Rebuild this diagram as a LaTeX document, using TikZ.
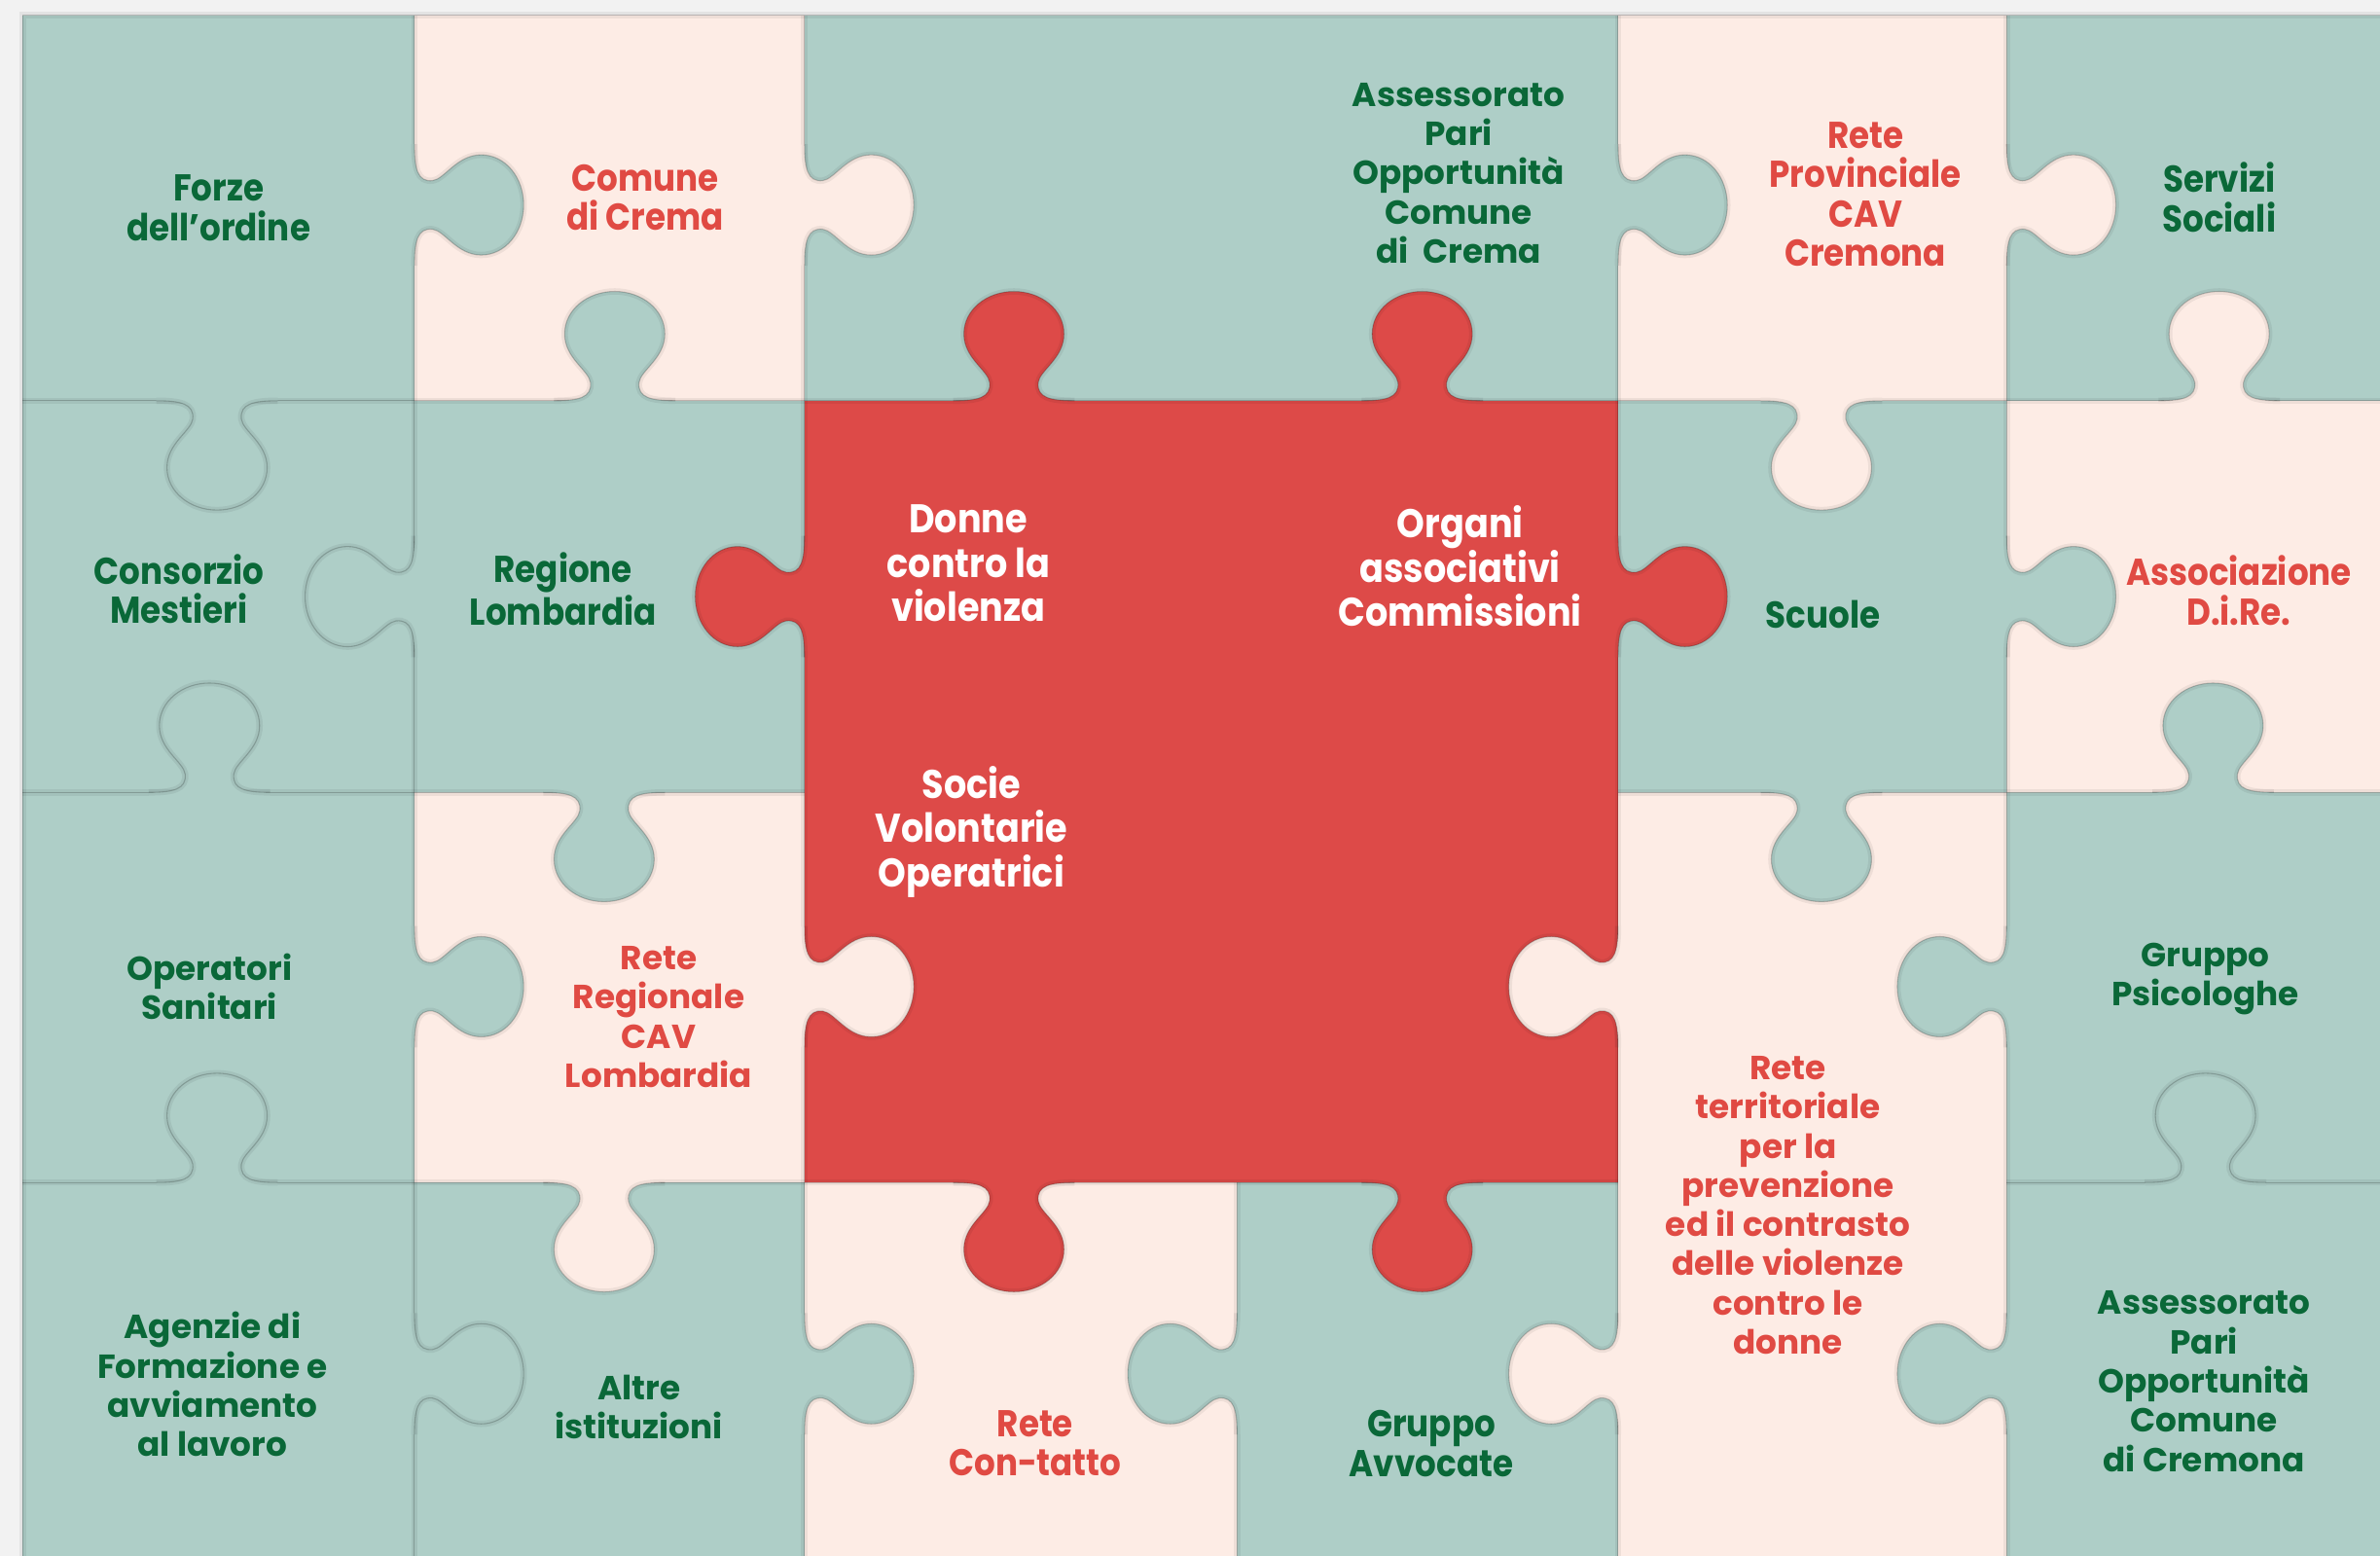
\documentclass[tikz,border=0pt]{standalone}
\usepackage{fontspec}
\setmainfont{Poppins}
\newfontfamily\narrowfont{Poppins}[FakeStretch=0.89]
\usepackage{tikz}

\definecolor{pzbg}{RGB}{242,242,242}
\definecolor{pzgreen}{RGB}{174,206,199}
\definecolor{pzpink}{RGB}{253,236,229}
\definecolor{pzred}{RGB}{221,74,72}
\definecolor{txtgreen}{RGB}{10,104,56}
\definecolor{txtred}{RGB}{224,74,67}

\newcommand\widetxt{\bfseries\fontsize{12.5}{14.7}\selectfont}
\newcommand\narrowtxt{\narrowfont\bfseries\fontsize{14}{14.7}\selectfont}
\newcommand\bigtxt{\narrowfont\bfseries\fontsize{15}{16.7}\selectfont}

\tikzset{seam/.style={draw=black,line width=.4pt,draw opacity=.2,
           preaction={draw=black,line width=2.4pt,draw opacity=.06}},
         knob/.pic={
           \fill[pic actions] (-40,-4) -- (-40,0)
             .. controls (-24,0) and (-15,2) .. (-16,12)
             .. controls (-17,20) and (-33,28) .. (-33,44)
             .. controls (-33,60) and (-18,72) .. (0,72)
             .. controls (18,72) and (33,60) .. (33,44)
             .. controls (33,28) and (17,20) .. (16,12)
             .. controls (15,2) and (24,0) .. (40,0) -- (40,-4) -- cycle;
           \draw[seam] (-40,0)
             .. controls (-24,0) and (-15,2) .. (-16,12)
             .. controls (-17,20) and (-33,28) .. (-33,44)
             .. controls (-33,60) and (-18,72) .. (0,72)
             .. controls (18,72) and (33,60) .. (33,44)
             .. controls (33,28) and (17,20) .. (16,12)
             .. controls (15,2) and (24,0) .. (40,0);
         }}

\begin{document}
\begin{tikzpicture}[x=0.2mm,y=-0.2mm]
  \tikzstyle{every node}=[align=center,inner sep=0pt]
  \tikzstyle{gw}=[text=txtgreen,font=\widetxt]
  \tikzstyle{gn}=[text=txtgreen,font=\narrowtxt]
  \tikzstyle{rw}=[text=txtred,font=\widetxt]
  \tikzstyle{rn}=[text=txtred,font=\narrowtxt]
  \tikzstyle{wn}=[text=white,font=\bigtxt]

  \useasboundingbox (0,0) rectangle (1568,1025);
  \fill[pzbg] (0,0) rectangle (1568,1025);
  \fill[pzgreen] (15,10) rectangle (1568,1025);

  % pink and red pieces
  \fill[pzpink] (273,10) rectangle (530,264)
                (1066,10) rectangle (1322,264)
                (1322,264) rectangle (1568,522)
                (273,522) rectangle (530,779)
                (1066,522) rectangle (1322,1025)
                (530,779) rectangle (815,1025);
  \fill[pzred] (530,264) rectangle (1066,779);

  % straight seams
  \draw[seam] (15,1025) -- (15,10) -- (1568,10);
  \draw[seam] (15,264) -- (1568,264)
              (15,522) -- (530,522) (1066,522) -- (1568,522)
              (15,779) -- (1066,779) (1322,779) -- (1568,779);
  \draw[seam] (273,10) -- (273,1025) (530,10) -- (530,1025)
              (1066,10) -- (1066,1025) (1322,10) -- (1322,1025)
              (815,779) -- (815,1025);

  % knobs: x/y/rotation (90 right, -90 left, 180 up, 0 down)
  \foreach \x/\y/\r in {273/135/90, 143/264/0, 405/264/180, 1066/135/90,
                        273/393/-90, 1322/393/90, 138/522/180, 398/522/0,
                        1200/522/0, 1458/522/180, 273/650/90, 1322/650/-90,
                        143/779/180, 1453/779/180, 273/905/90, 530/905/90,
                        815/905/-90, 1322/905/-90}
    \pic[fill=pzgreen,rotate=\r] at (\x,\y) {knob};
  \foreach \x/\y/\r in {530/135/90, 1322/135/90, 1200/264/0, 1462/264/180,
                        530/650/90, 1066/650/-90, 398/779/0, 1066/905/-90}
    \pic[fill=pzpink,rotate=\r] at (\x,\y) {knob};
  \foreach \x/\y/\r in {668/264/180, 937/264/180, 530/393/-90, 1066/393/90,
                        668/779/0, 937/779/0}
    \pic[fill=pzred,rotate=\r] at (\x,\y) {knob};

  \node[gn] (A) at (144,137) {Forze\\dell’ordine};
  \node[rn] (B) at (425,130) {Comune\\di Crema};
  \node[gw] (C) at (961,114) {Assessorato\\Pari\\Opportunità\\Comune\\di\ \ Crema};
  \node[rn] (D) at (1229,128) {Rete\\Provinciale\\CAV\\Cremona};
  \node[gn] (E) at (1462,130) {Servizi\\Sociali};

  \node[gn] (AA) at (118,388) {Consorzio\\Mestieri};
  \node[gn] (BB) at (371,388) {Regione\\Lombardia};
  \node[wn] (X)  at (638,371) {Donne\\contro la\\violenza};
  \node[wn] (Y)  at (962,373) {Organi\\associativi\\Commissioni};
  \node[wn] (Z)  at (640,548) {Socie\\Volontarie\\Operatrici};
  \node[gn] (DD) at (1201,405) {Scuole};
  \node[rn] (EE) at (1475,389) {Associazione\\D.i.Re.};

  \node[gw] (AAA) at (138,650) {Operatori\\Sanitari};
  \node[rw] (BBB) at (434,670) {Rete\\Regionale\\CAV\\Lombardia};
  \node[rw] (DDD) at (1178,794) {Rete\\territoriale\\per la\\prevenzione\\ed il contrasto\\delle violenze\\contro le\\donne};
  \node[gw] (EEE) at (1453,645) {Gruppo\\Psicologhe};

  \node[gw] (AAAA) at (140,912) {Agenzie di\\Formazione e\\avviamento\\al lavoro};
  \node[gw] (BBBB) at (421,927) {Altre\\istituzioni};
  \node[rn] (CCCC) at (682,951) {Rete\\Con-tatto};
  \node[gn] (DDDD) at (943,951) {Gruppo\\Avvocate};
  \node[gw] (EEEE) at (1452,910) {Assessorato\\Pari\\Opportunità\\Comune\\di Cremona};
\end{tikzpicture}
\end{document}
